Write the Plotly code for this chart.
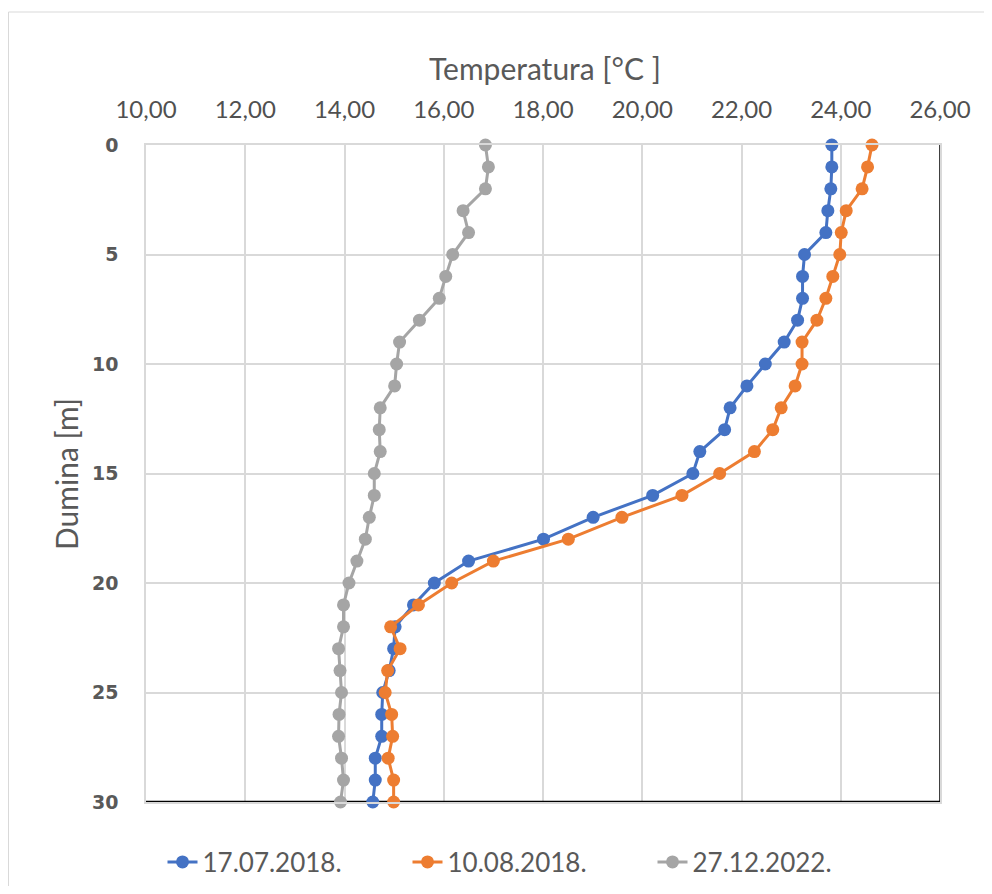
import plotly.graph_objects as go

depth = list(range(0, 31))
t_2018_07_17 = [23.82, 23.82, 23.80, 23.74, 23.70, 23.27, 23.23, 23.23, 23.13, 22.86,
                22.48, 22.11, 21.77, 21.66, 21.16, 21.02, 20.21, 19.01, 18.01, 16.50,
                15.81, 15.39, 15.02, 14.99, 14.90, 14.77, 14.75, 14.75, 14.62, 14.62, 14.57]
t_2018_08_10 = [24.63, 24.54, 24.43, 24.11, 24.01, 23.98, 23.84, 23.70, 23.52, 23.22,
                23.22, 23.08, 22.80, 22.63, 22.26, 21.56, 20.80, 19.59, 18.51, 17.00,
                16.16, 15.49, 14.93, 15.12, 14.87, 14.82, 14.95, 14.97, 14.88, 14.99, 14.99]
t_2022_12_27 = [16.84, 16.90, 16.84, 16.39, 16.50, 16.18, 16.04, 15.91, 15.51, 15.11,
                15.05, 15.01, 14.72, 14.70, 14.72, 14.60, 14.60, 14.50, 14.42, 14.25,
                14.09, 13.98, 13.98, 13.88, 13.91, 13.94, 13.89, 13.88, 13.94, 13.98, 13.92]

series = [
    ("17.07.2018.", t_2018_07_17, "#4472C4"),
    ("10.08.2018.", t_2018_08_10, "#ED7D31"),
    ("27.12.2022.", t_2022_12_27, "#A5A5A5"),
]

x_ticks = [10, 12, 14, 16, 18, 20, 22, 24, 26]
y_ticks = [0, 5, 10, 15, 20, 25, 30]

fig = go.Figure()
for name, vals, col in series:
    fig.add_trace(go.Scatter(
        x=vals, y=depth, name=name, mode="lines+markers",
        line=dict(color=col, width=3),
        marker=dict(color=col, size=13),
        cliponaxis=False,
    ))

# page body has an 8px margin; figure coordinates = screen - 8
OFF = 8
W, H = 976, 878
L, T = 138, 137
R = W - (940 - OFF)
B = H - (802 - OFF)
pw, ph = W - L - R, H - T - B


def sx(p):  # screen px -> paper x
    return (p - OFF - L) / pw


def sy(p):  # screen px -> paper y
    return (H - B - (p - OFF)) / ph


def cx(p):  # screen px -> container x
    return (p - OFF) / W


def cy(p):  # screen px -> container y
    return (H - (p - OFF)) / H


text_col = "#595959"
grid_col = "#D9D9D9"
FONT = "Lato"

fig.update_layout(
    width=W, height=H,
    margin=dict(l=L, r=R, t=T, b=B, autoexpand=False),
    paper_bgcolor="white", plot_bgcolor="white",
    separators=", ",
    showlegend=True,
    legend=dict(orientation="h", xref="container", yref="container",
                x=cx(530), xanchor="center",
                y=cy(862), yanchor="middle",
                font=dict(family=FONT, size=26, color=text_col),
                entrywidth=200, entrywidthmode="pixels",
                tracegroupgap=0),
    xaxis=dict(side="top", range=[10, 26], tickvals=x_ticks,
               tickformat=".2f", showgrid=True, gridcolor=grid_col, gridwidth=1.5,
               zeroline=False, showline=True, linecolor=grid_col, linewidth=1.5,
               mirror=True, ticks="", ticklabelstandoff=16,
               tickfont=dict(family=FONT, size=24, color="#505050")),
    yaxis=dict(range=[30, 0], tickvals=y_ticks, showgrid=True, gridcolor=grid_col,
               gridwidth=1.5, zeroline=False, showline=True, linecolor=grid_col,
               linewidth=1.5, mirror=True, ticks="", ticklabelstandoff=22,
               tickfont=dict(family="DejaVu Sans", size=19, color=text_col, weight="bold")),
    annotations=[
        dict(text="Temperatura [°C ]", xref="paper", yref="paper",
             x=sx(545), y=sy(68), xanchor="center", yanchor="middle",
             showarrow=False, font=dict(family=FONT, size=30, color=text_col)),
        dict(text="Dumina [m]", xref="paper", yref="paper", textangle=-90,
             x=sx(66), y=sy(474), xanchor="center", yanchor="middle",
             showarrow=False, font=dict(family=FONT, size=30, color=text_col)),
    ],
    shapes=[
        dict(type="line", xref="x", yref="y", x0=10, x1=26, y0=30, y1=30,
             line=dict(color="black", width=2.5), layer="between"),
        dict(type="line", xref="x", yref="y", x0=26, x1=26, y0=0, y1=30,
             line=dict(color="black", width=1.5), layer="between"),
        dict(type="rect", xref="paper", yref="paper",
             x0=sx(8.5), x1=sx(1010), y0=sy(920), y1=sy(12),
             line=dict(color="#D9D9D9", width=1), layer="below"),
    ],
)

fig.write_html("out.html")
